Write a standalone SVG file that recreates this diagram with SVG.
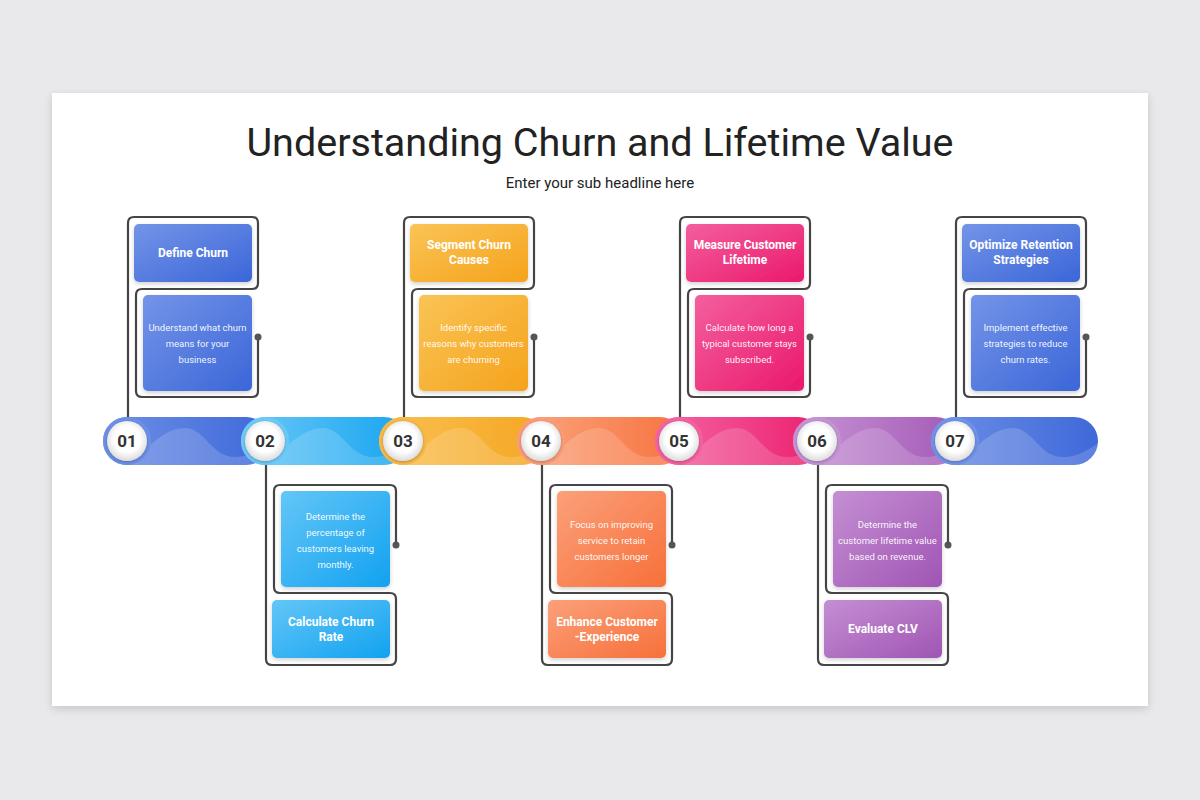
<svg xmlns="http://www.w3.org/2000/svg" width="1200" height="800" viewBox="0 0 1200 800">
<defs>
<filter id="slideShadow" x="-5%" y="-5%" width="110%" height="115%"><feDropShadow dx="0" dy="3" stdDeviation="4" flood-color="#000" flood-opacity="0.15"/></filter>
<filter id="cardShadow" x="-10%" y="-10%" width="120%" height="130%"><feDropShadow dx="0" dy="2" stdDeviation="2" flood-color="#000" flood-opacity="0.18"/></filter>
<filter id="circShadow" x="-30%" y="-30%" width="160%" height="160%"><feDropShadow dx="0" dy="1" stdDeviation="1.5" flood-color="#000" flood-opacity="0.25"/></filter>
<radialGradient id="gCirc" cx="50%" cy="45%" r="55%"><stop offset="0.6" stop-color="#ffffff"/><stop offset="1" stop-color="#dcdcdc"/></radialGradient>
<linearGradient id="gBlue" x1="0" y1="0" x2="1" y2="1"><stop offset="0" stop-color="#7494e8"/><stop offset="1" stop-color="#3b66d8"/></linearGradient>
<linearGradient id="gSky" x1="0" y1="0" x2="1" y2="1"><stop offset="0" stop-color="#63c6f7"/><stop offset="1" stop-color="#12a2f0"/></linearGradient>
<linearGradient id="gYel" x1="0" y1="0" x2="1" y2="1"><stop offset="0" stop-color="#fac455"/><stop offset="1" stop-color="#f5a31c"/></linearGradient>
<linearGradient id="gOra" x1="0" y1="0" x2="1" y2="1"><stop offset="0" stop-color="#fba07a"/><stop offset="1" stop-color="#f7703a"/></linearGradient>
<linearGradient id="gPink" x1="0" y1="0" x2="1" y2="1"><stop offset="0" stop-color="#f45f9e"/><stop offset="1" stop-color="#ea196c"/></linearGradient>
<linearGradient id="gPur" x1="0" y1="0" x2="1" y2="1"><stop offset="0" stop-color="#c48fd3"/><stop offset="1" stop-color="#a055b4"/></linearGradient>
<linearGradient id="sBlue" x1="0" y1="0" x2="1" y2="0"><stop offset="0" stop-color="#6d8fe6"/><stop offset="1" stop-color="#3f69d9"/></linearGradient>
<linearGradient id="sSky" x1="0" y1="0" x2="1" y2="0"><stop offset="0" stop-color="#6ac8f7"/><stop offset="1" stop-color="#18a5f0"/></linearGradient>
<linearGradient id="sYel" x1="0" y1="0" x2="1" y2="0"><stop offset="0" stop-color="#f9c152"/><stop offset="1" stop-color="#f5a622"/></linearGradient>
<linearGradient id="sOra" x1="0" y1="0" x2="1" y2="0"><stop offset="0" stop-color="#fba57f"/><stop offset="1" stop-color="#f7733f"/></linearGradient>
<linearGradient id="sPink" x1="0" y1="0" x2="1" y2="0"><stop offset="0" stop-color="#f465a2"/><stop offset="1" stop-color="#ec206f"/></linearGradient>
<linearGradient id="sPur" x1="0" y1="0" x2="1" y2="0"><stop offset="0" stop-color="#c795d5"/><stop offset="1" stop-color="#a45ab7"/></linearGradient>
<clipPath id="segClip"><rect x="-24" y="417" width="167" height="48" rx="24"/></clipPath>
</defs>
<style>
.title{font-family:Roboto,"Liberation Sans",sans-serif;font-size:39.5px;fill:#222;text-anchor:middle}
.sub{font-family:Roboto,"Liberation Sans",sans-serif;font-size:15px;fill:#222;text-anchor:middle}
.ct{font-family:Roboto,"Liberation Sans",sans-serif;font-size:12px;font-weight:bold;fill:#fff;text-anchor:middle}
.cd{font-family:Roboto,"Liberation Sans",sans-serif;font-size:9.5px;fill:#fff;fill-opacity:0.95;text-anchor:middle}
.num{font-family:Roboto,"Liberation Sans",sans-serif;font-size:17px;font-weight:bold;fill:#333;text-anchor:middle}
.line{fill:none;stroke:#454545;stroke-width:2.2}
.dot{fill:#555}
.wave{fill:#ffffff;fill-opacity:0.16}
.card{filter:url(#cardShadow)}
.circ{fill:url(#gCirc);filter:url(#circShadow)}
</style>
<rect width="1200" height="800" fill="#e9e8ea"/>
<rect x="52" y="93" width="1096" height="613" fill="#ffffff" filter="url(#slideShadow)"/>
<text class="title" x="600" y="156">Understanding Churn and Lifetime Value</text>
<text class="sub" x="600" y="188">Enter your sub headline here</text>

<g id="connectors">
<g id="topFrame1">
<path class="line" d="M258 337 V391 Q258 397 252 397 H142 Q136 397 136 391 V295 Q136 289 142 289 H252 Q258 289 258 283 V223 Q258 217 252 217 H134 Q128 217 128 223 V417"/>
<circle class="dot" cx="258" cy="337" r="3.5"/>
</g>
<g transform="translate(276 0)">
<path class="line" d="M258 337 V391 Q258 397 252 397 H142 Q136 397 136 391 V295 Q136 289 142 289 H252 Q258 289 258 283 V223 Q258 217 252 217 H134 Q128 217 128 223 V417"/>
<circle class="dot" cx="258" cy="337" r="3.5"/>
</g>
<g transform="translate(552 0)">
<path class="line" d="M258 337 V391 Q258 397 252 397 H142 Q136 397 136 391 V295 Q136 289 142 289 H252 Q258 289 258 283 V223 Q258 217 252 217 H134 Q128 217 128 223 V417"/>
<circle class="dot" cx="258" cy="337" r="3.5"/>
</g>
<g transform="translate(828 0)">
<path class="line" d="M258 337 V391 Q258 397 252 397 H142 Q136 397 136 391 V295 Q136 289 142 289 H252 Q258 289 258 283 V223 Q258 217 252 217 H134 Q128 217 128 223 V417"/>
<circle class="dot" cx="258" cy="337" r="3.5"/>
</g>
<g>
<path class="line" d="M396 545 V491 Q396 485 390 485 H280 Q274 485 274 491 V587 Q274 593 280 593 H390 Q396 593 396 599 V659 Q396 665 390 665 H272 Q266 665 266 659 V465"/>
<circle class="dot" cx="396" cy="545" r="3.5"/>
</g>
<g transform="translate(276 0)">
<path class="line" d="M396 545 V491 Q396 485 390 485 H280 Q274 485 274 491 V587 Q274 593 280 593 H390 Q396 593 396 599 V659 Q396 665 390 665 H272 Q266 665 266 659 V465"/>
<circle class="dot" cx="396" cy="545" r="3.5"/>
</g>
<g transform="translate(552 0)">
<path class="line" d="M396 545 V491 Q396 485 390 485 H280 Q274 485 274 491 V587 Q274 593 280 593 H390 Q396 593 396 599 V659 Q396 665 390 665 H272 Q266 665 266 659 V465"/>
<circle class="dot" cx="396" cy="545" r="3.5"/>
</g>
</g>

<g id="bar">
<g id="seg1" transform="translate(127 0)">
<rect x="-24" y="417" width="167" height="48" rx="24" fill="url(#sBlue)"/>
<path class="wave" clip-path="url(#segClip)" d="M5 465 C25 440 42 428 58 428 C78 428 84 457 108 457 C124 457 134 449 145 442 L145 470 Z"/>
<circle cx="0" cy="441" r="24" fill="#6d8fe6"/>
<circle class="circ" cx="0" cy="441" r="20"/>
<text class="num" x="0" y="447">01</text>
</g>
<g id="seg2" transform="translate(265 0)">
<rect x="-24" y="417" width="167" height="48" rx="24" fill="url(#sSky)"/>
<path class="wave" clip-path="url(#segClip)" d="M5 465 C25 440 42 428 58 428 C78 428 84 457 108 457 C124 457 134 449 145 442 L145 470 Z"/>
<circle cx="0" cy="441" r="24" fill="#6dc9f7"/>
<circle class="circ" cx="0" cy="441" r="20"/>
<text class="num" x="0" y="447">02</text>
</g>
<g id="seg3" transform="translate(403 0)">
<rect x="-24" y="417" width="167" height="48" rx="24" fill="url(#sYel)"/>
<path class="wave" clip-path="url(#segClip)" d="M5 465 C25 440 42 428 58 428 C78 428 84 457 108 457 C124 457 134 449 145 442 L145 470 Z"/>
<circle cx="0" cy="441" r="24" fill="#f6b848"/>
<circle class="circ" cx="0" cy="441" r="20"/>
<text class="num" x="0" y="447">03</text>
</g>
<g id="seg4" transform="translate(541 0)">
<rect x="-24" y="417" width="167" height="48" rx="24" fill="url(#sOra)"/>
<path class="wave" clip-path="url(#segClip)" d="M5 465 C25 440 42 428 58 428 C78 428 84 457 108 457 C124 457 134 449 145 442 L145 470 Z"/>
<circle cx="0" cy="441" r="24" fill="#f99c7a"/>
<circle class="circ" cx="0" cy="441" r="20"/>
<text class="num" x="0" y="447">04</text>
</g>
<g id="seg5" transform="translate(679 0)">
<rect x="-24" y="417" width="167" height="48" rx="24" fill="url(#sPink)"/>
<path class="wave" clip-path="url(#segClip)" d="M5 465 C25 440 42 428 58 428 C78 428 84 457 108 457 C124 457 134 449 145 442 L145 470 Z"/>
<circle cx="0" cy="441" r="24" fill="#f2629f"/>
<circle class="circ" cx="0" cy="441" r="20"/>
<text class="num" x="0" y="447">05</text>
</g>
<g id="seg6" transform="translate(817 0)">
<rect x="-24" y="417" width="167" height="48" rx="24" fill="url(#sPur)"/>
<path class="wave" clip-path="url(#segClip)" d="M5 465 C25 440 42 428 58 428 C78 428 84 457 108 457 C124 457 134 449 145 442 L145 470 Z"/>
<circle cx="0" cy="441" r="24" fill="#c393d2"/>
<circle class="circ" cx="0" cy="441" r="20"/>
<text class="num" x="0" y="447">06</text>
</g>
<g id="seg7" transform="translate(955 0)">
<rect x="-24" y="417" width="167" height="48" rx="24" fill="url(#sBlue)"/>
<path class="wave" clip-path="url(#segClip)" d="M5 465 C25 440 42 428 58 428 C78 428 84 457 108 457 C124 457 134 449 145 442 L145 470 Z"/>
<circle cx="0" cy="441" r="24" fill="#7092e7"/>
<circle class="circ" cx="0" cy="441" r="20"/>
<text class="num" x="0" y="447">07</text>
</g>
</g>

<g id="step1">
<rect class="card" x="134" y="224" width="118" height="58" rx="5" fill="url(#gBlue)"/>
<text class="ct" x="193" y="257">Define Churn</text>
<rect class="card" x="143" y="295" width="109" height="96" rx="5" fill="url(#gBlue)"/>
<text class="cd" x="197.5" y="331">Understand what churn</text>
<text class="cd" x="197.5" y="347">means for your</text>
<text class="cd" x="197.5" y="363">business</text>
</g>
<g id="step3">
<rect class="card" x="410" y="224" width="118" height="58" rx="5" fill="url(#gYel)"/>
<text class="ct" x="469" y="249">Segment Churn</text>
<text class="ct" x="469" y="264">Causes</text>
<rect class="card" x="419" y="295" width="109" height="96" rx="5" fill="url(#gYel)"/>
<text class="cd" x="473.5" y="331">Identify specific</text>
<text class="cd" x="473.5" y="347">reasons why customers</text>
<text class="cd" x="473.5" y="363">are churning</text>
</g>
<g id="step5">
<rect class="card" x="686" y="224" width="118" height="58" rx="5" fill="url(#gPink)"/>
<text class="ct" x="745" y="249">Measure Customer</text>
<text class="ct" x="745" y="264">Lifetime</text>
<rect class="card" x="695" y="295" width="109" height="96" rx="5" fill="url(#gPink)"/>
<text class="cd" x="749.5" y="331">Calculate how long a</text>
<text class="cd" x="749.5" y="347">typical customer stays</text>
<text class="cd" x="749.5" y="363">subscribed.</text>
</g>
<g id="step7">
<rect class="card" x="962" y="224" width="118" height="58" rx="5" fill="url(#gBlue)"/>
<text class="ct" x="1021" y="249">Optimize Retention</text>
<text class="ct" x="1021" y="264">Strategies</text>
<rect class="card" x="971" y="295" width="109" height="96" rx="5" fill="url(#gBlue)"/>
<text class="cd" x="1025.5" y="331">Implement effective</text>
<text class="cd" x="1025.5" y="347">strategies to reduce</text>
<text class="cd" x="1025.5" y="363">churn rates.</text>
</g>
<g id="step2">
<rect class="card" x="281" y="491" width="109" height="96" rx="5" fill="url(#gSky)"/>
<text class="cd" x="335.5" y="520">Determine the</text>
<text class="cd" x="335.5" y="536">percentage of</text>
<text class="cd" x="335.5" y="552">customers leaving</text>
<text class="cd" x="335.5" y="568">monthly.</text>
<rect class="card" x="272" y="600" width="118" height="58" rx="5" fill="url(#gSky)"/>
<text class="ct" x="331" y="626">Calculate Churn</text>
<text class="ct" x="331" y="641">Rate</text>
</g>
<g id="step4">
<rect class="card" x="557" y="491" width="109" height="96" rx="5" fill="url(#gOra)"/>
<text class="cd" x="611.5" y="528">Focus on improving</text>
<text class="cd" x="611.5" y="544">service to retain</text>
<text class="cd" x="611.5" y="560">customers longer</text>
<rect class="card" x="548" y="600" width="118" height="58" rx="5" fill="url(#gOra)"/>
<text class="ct" x="607" y="626">Enhance Customer</text>
<text class="ct" x="607" y="641">-Experience</text>
</g>
<g id="step6">
<rect class="card" x="833" y="491" width="109" height="96" rx="5" fill="url(#gPur)"/>
<text class="cd" x="887.5" y="528">Determine the</text>
<text class="cd" x="887.5" y="544">customer lifetime value</text>
<text class="cd" x="887.5" y="560">based on revenue.</text>
<rect class="card" x="824" y="600" width="118" height="58" rx="5" fill="url(#gPur)"/>
<text class="ct" x="883" y="633">Evaluate CLV</text>
</g>
</svg>
